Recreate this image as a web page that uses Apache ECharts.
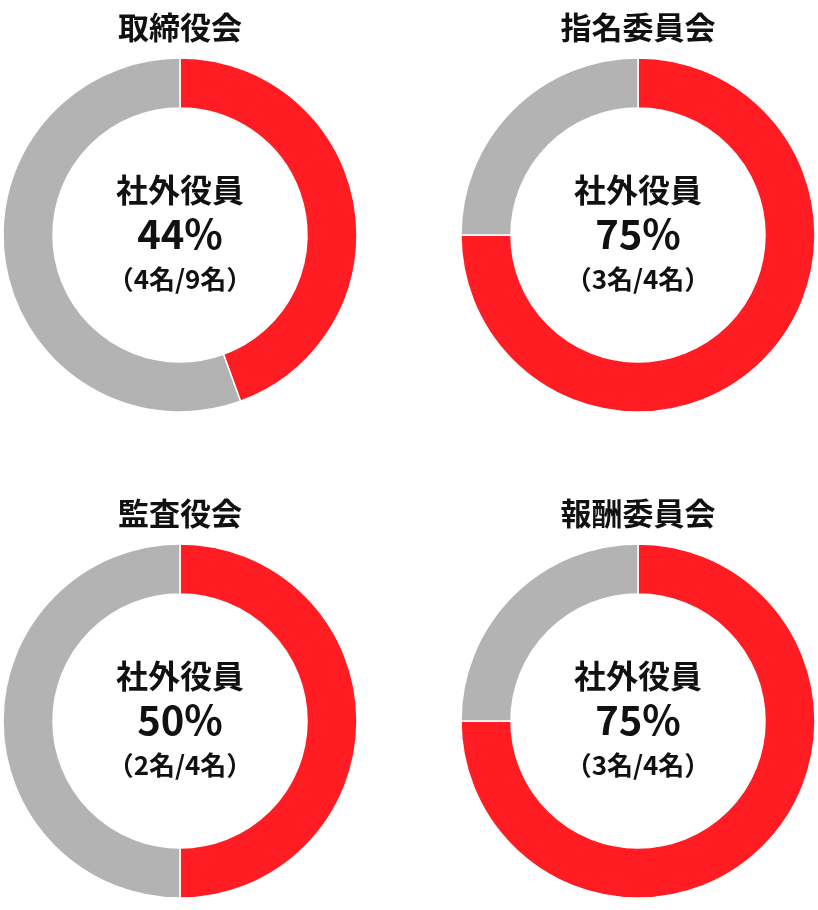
<!DOCTYPE html>
<html>
<head>
<meta charset="utf-8">
<script src="https://cdn.jsdelivr.net/npm/echarts@6/dist/echarts.min.js"></script>
<style>
  html, body { margin: 0; padding: 0; background: #fff; }
  #chart { width: 818px; height: 910px; }
</style>
</head>
<body>
<div id="chart"></div>
<script>
const committees = ['取締役会', '指名委員会', '監査役会', '報酬委員会'];
const outsideCount = [4, 3, 2, 3];
const totalCount = [9, 4, 4, 4];

const centers = [[180, 235], [638, 235], [180, 721], [638, 721]];
const RED = '#FF1D23';
const GRAY = '#B3B3B3';
const FONT = '"Noto Sans CJK JP", "Noto Sans", sans-serif';

const chart = echarts.init(document.getElementById('chart'));

const series = committees.map((name, i) => {
  const pct = Math.round(outsideCount[i] / totalCount[i] * 100);
  return {
    type: 'pie',
    name,
    center: centers[i],
    radius: [127, 177],
    startAngle: 90,
    clockwise: true,
    silent: true,
    emphasis: { disabled: true },
    itemStyle: { borderColor: '#fff', borderWidth: 1.5 },
    labelLine: { show: false },
    label: { show: false },
    data: [
      {
        value: outsideCount[i],
        itemStyle: { color: RED },
        label: {
          show: true,
          position: 'center',
          formatter: `{a|社外役員}\n{b|${pct}%}\n{c|（${outsideCount[i]}名/${totalCount[i]}名）}`,
          rich: {
            a: { fontFamily: FONT, fontSize: 32, fontWeight: 'bold', color: '#111', lineHeight: 44, align: 'center' },
            b: { fontFamily: FONT, fontSize: 40, fontWeight: 'bold', color: '#111', lineHeight: 44, align: 'center' },
            c: { fontFamily: FONT, fontSize: 26, fontWeight: 'bold', color: '#111', lineHeight: 46, align: 'center' }
          }
        }
      },
      { value: totalCount[i] - outsideCount[i], itemStyle: { color: GRAY } }
    ]
  };
});

const titles = committees.map((name, i) => ({
  type: 'text',
  x: centers[i][0],
  y: centers[i][1] - 208,
  style: {
    text: name,
    fontFamily: FONT,
    fontSize: 31,
    fontWeight: 'bold',
    fill: '#111',
    align: 'center',
    verticalAlign: 'middle'
  }
}));

chart.setOption({
  animation: false,
  backgroundColor: '#fff',
  graphic: titles,
  series
});
</script>
</body>
</html>
